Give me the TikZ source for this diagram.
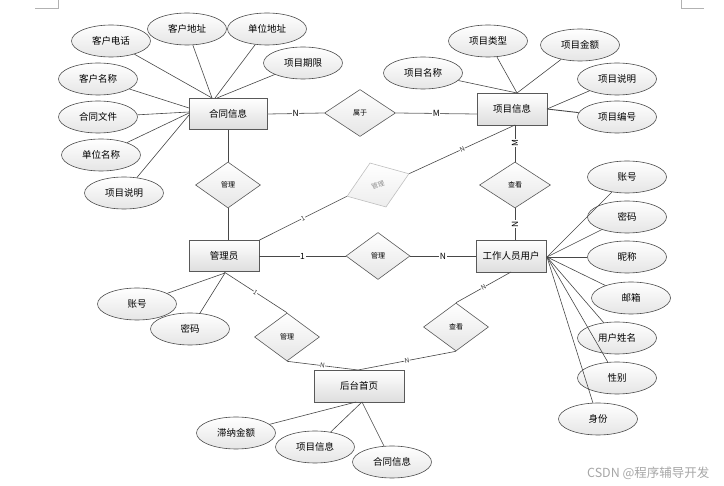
\documentclass[tikz,border=0pt]{standalone}
\usepackage{fontspec}
\setmainfont{Noto Sans CJK SC}
\usetikzlibrary{shapes.geometric,shadows}
\begin{document}
\begin{tikzpicture}[x=1pt,y=-1pt,
  every node/.style={font=\fontsize{9.5}{10}\selectfont},
  ent/.style={draw=black!65, rectangle, minimum width=70pt, minimum height=31pt,
    top color=white, bottom color=black!13, line width=0.8pt, inner sep=0,
    drop shadow={shadow xshift=1pt, shadow yshift=-1pt, opacity=0.25, fill=black}},
  attr/.style={draw=black!70, ellipse, minimum width=79pt, minimum height=32pt,
    top color=white, bottom color=black!10, line width=0.6pt, inner sep=0},
  rel/.style={draw=black!65, diamond, minimum width=65pt, minimum height=47pt,
    top color=white, bottom color=black!10, line width=0.6pt, inner sep=0,
    font=\fontsize{7}{7}\selectfont},
  ghost/.style={draw=black!25, diamond, minimum width=66pt, minimum height=47pt,
    top color=white, bottom color=black!7, line width=0.6pt, inner sep=0,
    text=black!45, font=\fontsize{6.5}{6.5}\selectfont},
  conn/.style={draw=black!72, line width=0.6pt},
  card/.style={fill=white, text=black, inner sep=0.6pt, font=\fontsize{8.5}{8.5}\selectfont},
  cards/.style={fill=white, text=black!80, inner sep=0.3pt, font=\fontsize{6.5}{6.5}\selectfont},
  cornermark/.style={draw=black!30, line width=0.5pt},
]
\useasboundingbox (0,0) rectangle (724,486);

% page corner marks
\draw[cornermark] (35,8) -- (58,8) -- (58,0);
\draw[cornermark] (681,0) -- (681,8) -- (704,8);

% entities
\node[ent, minimum width=78pt] (ht) at (228,114) {合同信息};
\node[ent, minimum height=32pt] (xm) at (512,109) {项目信息};
\node[ent] (gly) at (224,256) {管理员};
\node[ent, minimum height=32pt] (gz) at (511,256) {工作人员用户};
\node[ent, minimum width=90pt, minimum height=32pt] (ht2) at (359,386) {后台首页};

% relationships
\node[rel, minimum width=71pt] (d1) at (360,113) {属于};
\node[ghost, rotate=20] (d2) at (378,185) {管理};
\node[rel, minimum height=46pt] (d3) at (228,185) {管理};
\node[rel, minimum width=71pt, minimum height=46pt] (d4) at (515,185) {查看};
\node[rel, minimum width=64pt] (d5) at (378,256) {管理};
\node[rel, minimum height=48pt] (d6) at (287,337) {管理};
\node[rel, minimum height=48pt] (d7) at (456,327) {查看};

% helper coordinates on entity borders
\coordinate (xmL) at (477,114);
\coordinate (xmB) at (515,125);
\coordinate (gzT) at (515,240);
\coordinate (gzB) at (511,272);
\coordinate (htT) at (358,370);

% relationship connectors
\draw[conn, black!55, line width=0.8pt] (ht.east) -- node[card] {N} (d1.west);
\draw[conn, black!55, line width=0.8pt] (d1.east) -- node[card] {M} (xmL);
\draw[conn] (ht.south) -- (d3.north);
\draw[conn] (d3.south) -- (d3.south |- gly.north);
\draw[conn] (gly.north east) -- node[cards, sloped] {1} (d2.west);
\draw[conn] (d2.east) -- node[cards, sloped] {N} (xmB);
\draw[conn] (xmB) -- node[card, rotate=90] {M} (d4.north);
\draw[conn] (d4.south) -- node[card, rotate=90] {N} (gzT);
\draw[conn] (gly.east) -- node[card] {1} (d5.west);
\draw[conn] (d5.east) -- node[card] {N} (gz.west);
\draw[conn] (gly.south) -- node[cards, sloped] {1} (d6.north);
\draw[conn] (d6.south) -- node[cards, sloped] {N} (htT);
\draw[conn] (gzB) -- node[cards, sloped] {N} (d7.north);
\draw[conn] (d7.south) -- node[cards, sloped] {N} (htT);

% attributes of 合同信息
\node[attr] (a1) at (111,41) {客户电话};
\node[attr] (a2) at (187,29) {客户地址};
\node[attr] (a3) at (267,29) {单位地址};
\node[attr] (a4) at (303,63) {项目期限};
\node[attr] (a5) at (98,79) {客户名称};
\node[attr] (a6) at (98,117) {合同文件};
\node[attr] (a7) at (101,155) {单位名称};
\node[attr] (a8) at (124,193) {项目说明};
\coordinate (c1) at (212,98);
\coordinate (c2) at (215,98);
\coordinate (c3) at (217,98);
\coordinate (c5) at (189,108);
\coordinate (c6) at (189,112);
\coordinate (c7) at (189,113);
\coordinate (c8) at (189,115);
\draw[conn] (a1) -- (c1);
\draw[conn] (a2) -- (c1);
\draw[conn] (a3) -- (c2);
\draw[conn] (a4) -- (c3);
\draw[conn] (a5) -- (c5);
\draw[conn] (a6) -- (c6);
\draw[conn] (a7) -- (c7);
\draw[conn] (a8) -- (c8);

% attributes of 项目信息
\node[attr] (b1) at (488,41) {项目类型};
\node[attr] (b2) at (580,45) {项目金额};
\node[attr] (b3) at (423,73) {项目名称};
\node[attr] (b4) at (617,79) {项目说明};
\node[attr] (b5) at (617,117) {项目编号};
\coordinate (xmT) at (517,93);
\coordinate (xmR) at (547,109);
\draw[conn] (b1) -- (xmT);
\draw[conn] (b2) -- (xmT);
\draw[conn] (b3) -- (xmT);
\draw[conn] (b4) -- (xmR);
\draw[conn, line width=0.9pt] (b5) -- (xmR);

% attributes of 工作人员用户
\node[attr] (g1) at (627,177) {账号};
\node[attr] (g2) at (627,217) {密码};
\node[attr] (g3) at (627,257) {昵称};
\node[attr] (g4) at (631,298) {邮箱};
\node[attr] (g5) at (617,338) {用户姓名};
\node[attr] (g6) at (617,378) {性别};
\node[attr] (g7) at (598,419) {身份};
\coordinate (gzR) at (547,257);
\foreach \n in {g1,g2,g3,g4,g5,g6,g7} \draw[conn] (\n) -- (gzR);

% attributes of 管理员
\node[attr] (m1) at (137,304) {账号};
\node[attr] (m2) at (190,329) {密码};
\coordinate (glyB) at (225,273);
\draw[conn] (m1) -- (glyB);
\draw[conn] (m2) -- (glyB);

% attributes of 后台首页
\node[attr] (h1) at (236,433) {滞纳金额};
\node[attr] (h2) at (315,447) {项目信息};
\node[attr] (h3) at (392,462) {合同信息};
\coordinate (hB1) at (356,402);
\coordinate (hB2) at (362,402);
\draw[conn] (h1) -- (hB1);
\draw[conn] (h2) -- (hB2);
\draw[conn] (h3) -- (hB2);

% watermark
\node[text=black!35, font=\fontsize{12.5}{13}\selectfont, anchor=east] (wm) at (713,473) {CSDN @程序辅导开发};
\end{tikzpicture}
\end{document}
